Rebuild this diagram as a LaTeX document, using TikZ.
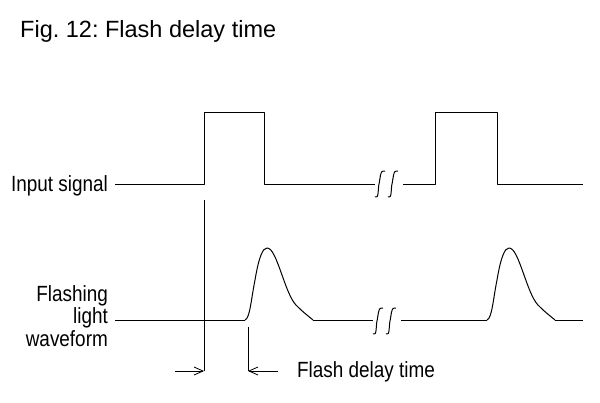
\documentclass[tikz,border=0pt]{standalone}
\usepackage{fontspec}
\setmainfont{Liberation Sans}
\frenchspacing
\usetikzlibrary{arrows.meta}
\tikzset{wave/.style={line width=1pt, line join=round}}
\tikzset{lbl/.style={inner sep=0pt, font=\fontsize{22}{22.5}\selectfont, xscale=0.86, transform shape}}
\tikzset{dim/.style={line width=0.8pt, -{Straight Barb[length=9pt,width=8pt]}}}
\newcommand{\lightpulse}[1]{%
  \draw[wave, shift={(#1,0)}] (245,320) .. controls (250,318) and (251,300) .. (255,280)
    .. controls (259,256) and (263,248) .. (267,248)
    .. controls (272,248) and (276,258) .. (282,275)
    .. controls (288,292) and (292,302) .. (298,307)
    .. controls (303,312) and (307,315) .. (313,320);}
\newcommand{\breakmark}[2]{%
  \draw[wave, shift={(#1,#2)}] (0,13) .. controls (4,16) and (3,3) .. (4,0)
    .. controls (5,-3) and (5,-16) .. (10,-13);
  \draw[wave, shift={(#1+13,#2)}] (0,13) .. controls (4,16) and (3,3) .. (4,0)
    .. controls (5,-3) and (5,-16) .. (10,-13);}

\begin{document}
\begin{tikzpicture}[x=1pt, y=-1pt]
  \useasboundingbox (0,0) rectangle (600,402);

  \node[anchor=base west, inner sep=0pt, font=\fontsize{23.5}{24}\selectfont] (title) at (20,37) {Fig. 12: Flash delay time};

  % input signal
  \node[lbl, anchor=base east] (insig) at (108,191) {Input signal};
  \draw[wave] (115,184) -- (204,184) -- (204,112) -- (264,112) -- (264,184) -- (375,184);
  \breakmark{375}{184}
  \draw[wave] (403,184) -- (435,184) -- (435,112) -- (497,112) -- (497,184) -- (583,184);

  % flashing light waveform
  \node[lbl, anchor=east, align=right] (flash) at (108,316) {Flashing\\light\\waveform};
  \draw[wave] (115,320) -- (245,320);
  \lightpulse{0}
  \draw[wave] (313,320) -- (373,320);
  \breakmark{373}{321}
  \draw[wave] (401,320) -- (487,320);
  \lightpulse{242}
  \draw[wave] (555,320) -- (583,320);

  % delay
  \coordinate (t0top) at (204,200);
  \coordinate (t0) at (204,371);
  \coordinate (t1top) at (248,327);
  \coordinate (t1) at (248,371);
  \coordinate (al) at (175,371);
  \coordinate (ar) at (278,371);
  \draw[line width=0.8pt] (t0top) -- (t0);
  \draw[line width=0.8pt] (t1top) -- (t1);
  \draw[dim] (al) -- (t0);
  \draw[dim] (ar) -- (t1);
  \node[lbl, anchor=base west] (delay) at (297,377) {Flash delay time};
\end{tikzpicture}
\end{document}
